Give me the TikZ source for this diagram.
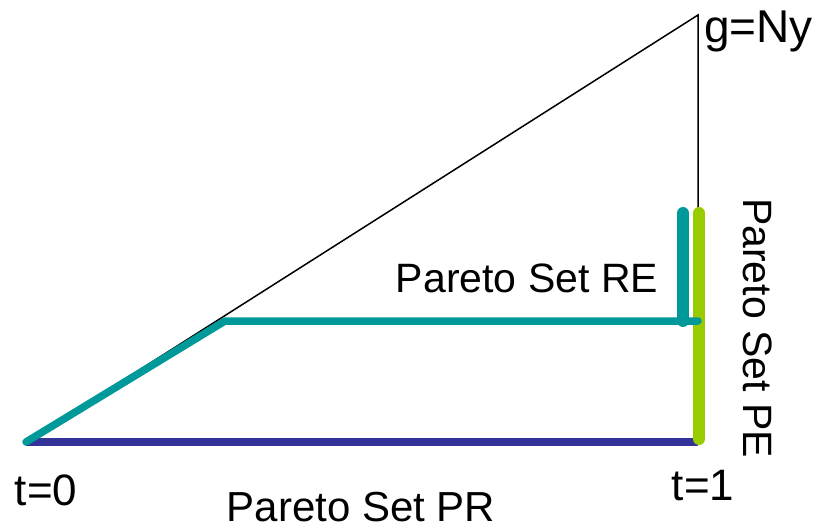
\documentclass[tikz,border=0pt]{standalone}
\usepackage{fontspec}
\setmainfont{Liberation Sans}
\definecolor{tealset}{RGB}{0,153,153}
\definecolor{blueset}{RGB}{51,51,153}
\definecolor{greenset}{RGB}{153,204,0}
\begin{document}
\begin{tikzpicture}[x=1pt, y=-1pt,
    frame/.style={black, line width=1.5pt},
    setline/.style={line width=7.5pt, line cap=round, line join=round},
    setbar/.style={line width=12pt, line cap=round},
    lbl/.style={inner sep=0pt, font=\fontsize{41}{48}\selectfont},
    tlbl/.style={inner sep=0pt, font=\fontsize{44}{52}\selectfont}]

  \useasboundingbox (0,0) rectangle (819,529);

  \coordinate (o)  at (26,442);
  \coordinate (g)  at (698,15);
  \coordinate (t1) at (698,442);
  \coordinate (k)  at (225,321);
  \coordinate (kr) at (698,321);
  \coordinate (rt) at (683,213);
  \coordinate (rb) at (683,321);
  \coordinate (pt) at (699,213);
  \coordinate (pb) at (699,439);

  \draw[frame] (o) -- (g) -- (t1);
  \draw[setline, blueset, line cap=butt] (o) -- (t1);
  \draw[setbar, greenset] (pt) -- (pb);
  \draw[setline, tealset] (o) -- (k) -- (kr);
  \draw[setbar, tealset] (rt) -- (rb);

  \node[lbl, anchor=base west, font=\fontsize{46}{54}\selectfont] (gl) at (704,43) {g=Ny};
  \node[lbl] (re) at (527,278) {Pareto Set RE};
  \node[lbl, font=\fontsize{42}{50}\selectfont] (pr) at (361,507) {Pareto Set PR};
  \node[lbl, anchor=base, rotate=-90] (pe) at (743,328) {Pareto Set PE};
  \node[tlbl, anchor=base] (t0l) at (46,505) {t=0};
  \node[tlbl, anchor=base] (t1l) at (703,500) {t=1};
\end{tikzpicture}
\end{document}
